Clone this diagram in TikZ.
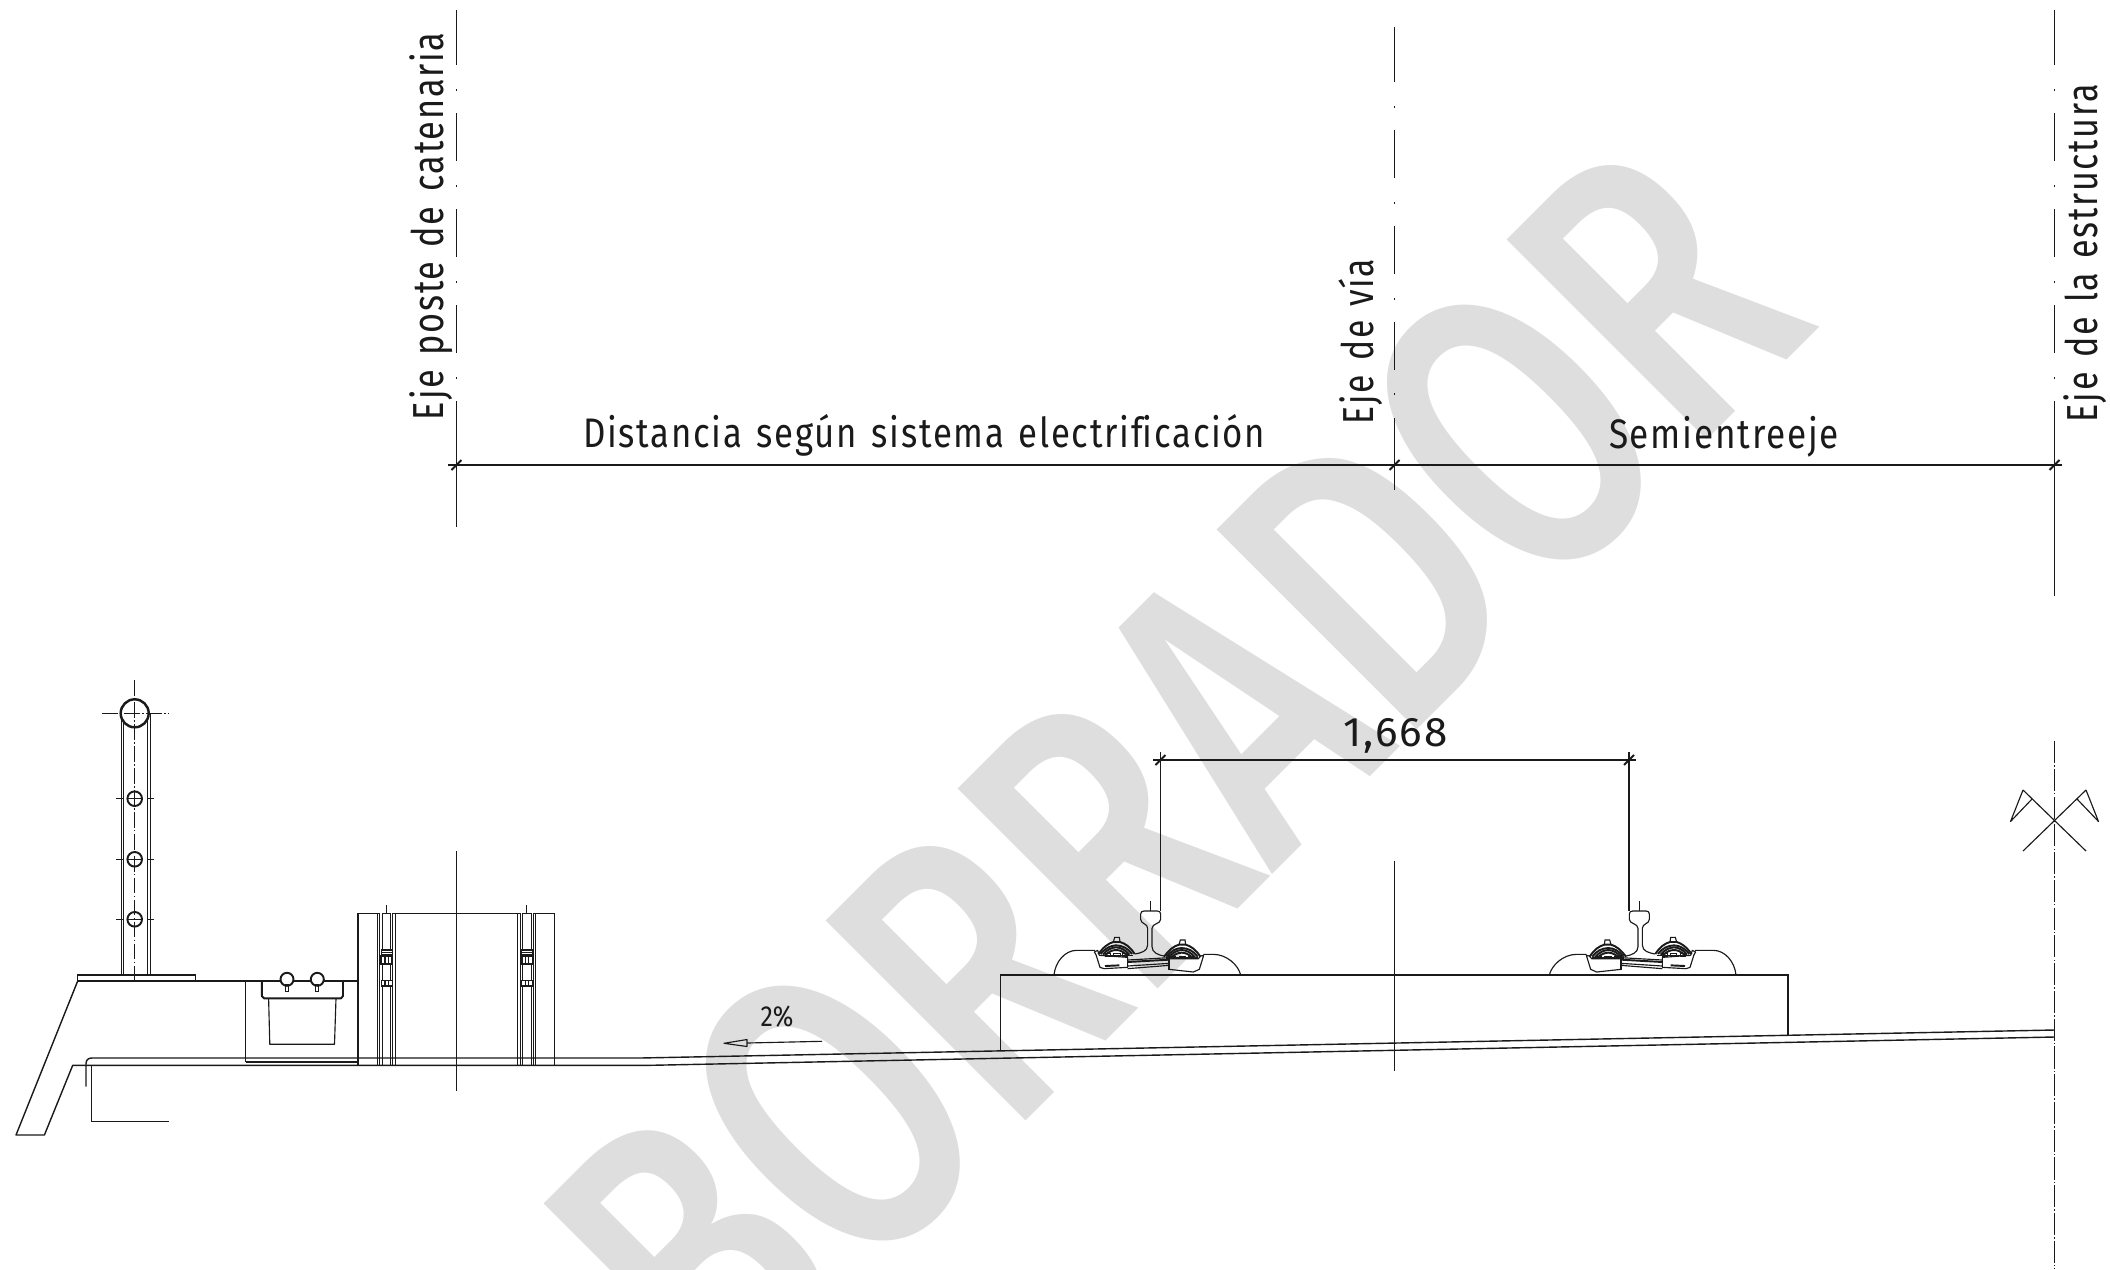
\documentclass[tikz,border=0pt]{standalone}
\usepackage{fontspec}
\usepackage{graphicx}
\setmainfont{Fira Sans}
\newfontface\wmfont{Fira Sans Medium}
\definecolor{ink}{HTML}{1A1A1A}
\definecolor{wm}{HTML}{DEDEDE}
\newsavebox\fitbox
\newcommand\fitw[3]{{\fontsize{#1}{#1}\selectfont\sbox\fitbox{#3}\pgfmathsetmacro\fitr{#2*0.56693/(\the\wd\fitbox)}\scalebox{\fitr}[1]{\usebox\fitbox}}}
\newcommand\spaced{\addfontfeatures{LetterSpace=5}\spaceskip=0.42em\relax}
\tikzset{
  ln/.style={draw=ink,line width=0.65pt},
  thin ln/.style={draw=ink,line width=0.4pt},
  hv/.style={draw=ink,line width=1.1pt},
  tickm/.style={draw=ink,line width=1.1pt},
  lab/.style={inner sep=0pt,outer sep=0pt,anchor=base west,text=ink},
  vlab/.style={lab,rotate=90},
  cdash/.style={draw=ink,line width=0.45pt,dash pattern=on 9pt off 1.3pt on 0.9pt off 1.3pt},
  axisdash/.style={draw=ink,line width=0.65pt,dash pattern=on 12.6pt off 1.2pt on 0.8pt off 1.2pt},
}
% one rail with its fastenings, drawn in units of a third of a pixel
\newcommand\railset{%
  % pads either side
  \draw[ln] (72,285) .. controls (76,245) and (105,211) .. (140,211) -- (195,211);
  \draw[ln] (632,285) .. controls (625,255) and (590,223) .. (550,223) -- (520,223);
  % rail
  \draw[ln,line join=round] (315,222) .. controls (335,218) and (352,214) .. (353,195) -- (353,145)
     .. controls (353,130) and (332,132) .. (332,118) -- (332,102) .. controls (332,96) and (336,93) .. (342,93)
     -- (382,93) .. controls (388,93) and (392,96) .. (392,102) -- (392,118)
     .. controls (392,132) and (366,130) .. (366,145) -- (366,200) .. controls (366,218) and (385,225) .. (402,228);
  \draw[thin ln] (362,63) -- (362,93);
  % base plates
  \draw[ln,line join=round] (193,216) -- (203,211) -- (208,226) -- (293,232) -- (293,262) -- (222,266) -- (210,262) -- (198,224) -- cycle;
  \draw[ln,line join=round] (417,236) -- (505,236) -- (512,228) -- (521,226) -- (508,268) -- (490,276) -- (417,268) -- cycle;
  \draw[ln] (293,228) -- (293,265) (417,224) -- (417,270);
  \draw[ln] (293,240) -- (417,233);
  \draw[hv] (293,246) -- (417,239);
  \draw[ln] (293,258) -- (417,250) (293,266) -- (417,256);
  \draw[hv] (225,258) -- (268,256);
  % clips
  \foreach \dx/\dy in {0/0,197/8}{
    \begin{scope}[shift={(\dx,\dy)}]
      \draw[hv] (205,222) .. controls (222,200) and (235,190) .. (250,186) -- (270,186) .. controls (285,190) and (300,200) .. (314,222);
      \draw[hv] (212,222) .. controls (228,204) and (240,197) .. (258,196) .. controls (278,197) and (292,204) .. (306,222);
      \draw[hv] (219,224) .. controls (232,208) and (245,203) .. (258,202) .. controls (272,203) and (285,208) .. (298,224);
      \draw[hv] (226,225) .. controls (238,214) and (248,210) .. (258,210) .. controls (268,210) and (280,214) .. (290,225);
      \draw[ln] (250,186) -- (254,172) -- (268,172) -- (270,186);
      \draw[ln] (212,226) -- (308,226);
      \draw[thin ln] (225,220) rectangle (240,228) (250,220) rectangle (270,228) (278,220) rectangle (292,228);
    \end{scope}}
}
\begin{document}
\begin{tikzpicture}[x=0.02cm,y=-0.02cm]
\useasboundingbox (0,0) rectangle (2110,1269);
\fill[white] (0,0) rectangle (2110,1269);
% watermark
\begin{scope}
  \clip (529,0) rectangle (2110,1269);
  \node[inner sep=0pt,outer sep=0pt,anchor=base west,rotate=45,text=wm] (wmark) at (726,1421)
    {\wmfont\fitw{233}{1556}{BORRADOR}};
\end{scope}

% ---- reference coordinates
\coordinate (dimL) at (448,465);
\coordinate (dimR) at (2062,465);
\coordinate (railA) at (1160.5,911);
\coordinate (railB) at (1629,911);
\coordinate (dimA) at (1153,760);
\coordinate (dimB) at (1636,760);

% ---- upper axes
\foreach \x in {456.5,2054.5}{
  \foreach \a/\b in {10/65,113/161,209/257,305/353}{\draw[ln] (\x,\a) -- (\x,\b);}
  \foreach \d in {89,185,281,377}{\draw[ln] (\x,\d) -- (\x,\d+1.5);}
}
\draw[ln] (456.5,401) -- (456.5,527);
\draw[ln] (2054.5,401) -- (2054.5,596);
\foreach \a/\b in {27/82,130/178,226/274,322/370,418/490}{\draw[ln] (1394.5,\a) -- (1394.5,\b);}
\foreach \d in {106,202,298,393}{\draw[ln] (1394.5,\d) -- (1394.5,\d+1.5);}

% ---- lower axes
\draw[ln] (456.5,851) -- (456.5,1090.5);
\draw[ln] (1394.5,861) -- (1394.5,1071);
\draw[axisdash] (2054.5,741) -- (2054.5,1269);

% ---- dimension lines
\draw[ln] (dimL) -- (dimR);
\foreach \x in {456.5,1394.5,2054.5}{\draw[tickm] (\x-5,470) -- (\x+5,460);}
\draw[ln] (dimA) -- (dimB);
\foreach \x in {1160.5,1629}{\draw[tickm] (\x-5,765) -- (\x+5,755);}
\draw[ln] (1160.5,752) -- (railA);
\draw[ln] (1629,752) -- (railB);

% ---- labels
\node[vlab] (lblA) at (443,420) {\fitw{24.7}{389}{\spaced Eje poste de catenaria}};
\node[vlab] (lblB) at (1373,424) {\fitw{24.7}{166}{\spaced Eje de vía}};
\node[vlab] (lblC) at (2097.5,422) {\fitw{24.7}{339}{\spaced Eje de la estructura}};
\node[lab] (lblD) at (583,447) {\fitw{23.5}{685}{\spaced Distancia según sistema electrif\kern0pt icación}};
\node[lab] (lblE) at (1609,448) {\fitw{23.5}{231}{\spaced Semientreeje}};
\node[lab] (lblF) at (1343,746) {\fitw{23.5}{105}{\spaced 1,668}};
\node[lab] (lblG) at (760.5,1026) {\fitw{16.5}{33}{2\%}};

% ---- slope arrow
\coordinate (slA) at (822,1041.3);
\coordinate (slB) at (747,1043);
\coordinate (slT) at (724,1043.3);
\draw[ln] (slA) -- (slB);
\draw[ln,line join=round] (slT) -- (747,1039.5) -- (747,1046.5) -- cycle;

% ---- platform and slab
\draw[ln] (77.7,981) -- (358,981);
\draw[ln,line width=0.8pt,line join=round] (77.7,981) -- (16,1135) -- (44.4,1135) -- (72.7,1065.3) -- (650,1065.3) -- (2054.5,1037);
\draw[ln,line width=0.8pt] (86,1086.7) -- (86,1064) .. controls (86,1060) and (88,1058) .. (92,1058) -- (640,1058) -- (2054.5,1030);
\draw[ln] (91.8,1065.3) -- (91.8,1121.7) -- (168.8,1121.7);
\draw[ln] (1000.7,1051) -- (1000.7,975) -- (1788,975) -- (1788,1035);

% ---- post
\draw[thin ln] (121,713) -- (121,975) (150,713) -- (150,975) (123.5,713) -- (123.5,975) (147,713) -- (147,975);
\draw[ln] (77.7,981) -- (77.7,975) -- (195.6,975) -- (195.6,981);
\draw[hv,line width=1.4pt,fill=white] (134.7,713.3) circle[radius=14];
\draw[cdash] (134.7,680) -- (134.7,983);
\draw[cdash,line width=0.7pt] (102,713.3) -- (168,713.3);
\foreach \y in {798.7,859.3,919.3}{
  \draw[hv] (134.7,\y) circle[radius=7.3];
  \draw[ln] (116,\y) -- (123,\y) (128,\y) -- (141,\y) (147,\y) -- (154,\y);
}

% ---- cable trough
\draw[ln] (245.7,981) -- (245.7,1062.3) (358,913.3) -- (358,1065.3);
\draw[hv] (245.7,1062.3) -- (358,1062.3);
\draw[hv,line join=round] (261.8,981) -- (261.8,996) -- (264,998.3) -- (341,998.3) -- (343,996) -- (343,981);
\draw[ln,line join=round] (268.6,998.3) -- (269.8,1044.3) -- (334.5,1044.3) -- (336,998.3);
\foreach \x in {287,317.3}{
  \draw[hv,fill=white] (\x,979.3) circle[radius=6.5];
  \draw[ln] (\x-1.5,985) rectangle (\x+1.5,991.7);
}

% ---- walkway block
\foreach \a/\b in {358/379.6,382.3/390.7,393/520.4,522.8/531.2,533/554.5}{\draw[ln] (\a,913.3) -- (\b,913.3);}
\draw[ln] (554.5,913.3) -- (554.5,1065.3);
\foreach \o in {0,140.4}{
  \begin{scope}[xshift=\o*0.02cm]
    \foreach \x in {377,379.6,382.3,390.7,392.6,395}{\draw[thin ln] (\x,913.3) -- (\x,1065.3);}
    \draw[ln] (386.4,905) -- (386.4,913.3);
    \draw[ln,fill=white] (381.2,950) rectangle (392.3,955);
    \draw[ln] (381.2,952.5) -- (392.3,952.5);
    \draw[hv,fill=white] (381.2,956) rectangle (392.3,963.7);
    \draw[ln] (385,956) -- (385,963.7) (388.5,956) -- (388.5,963.7);
    \draw[ln,fill=white] (381.2,980.7) rectangle (392.3,986);
    \draw[ln] (385,980.7) -- (385,986) (388.5,980.7) -- (388.5,986);
  \end{scope}
}

% ---- rails
\begin{scope}[shift={(1030,880)},scale=1/3]
  \railset
\end{scope}
\begin{scope}[shift={(1760,880)},xscale=-1/3,yscale=1/3]
  \railset
\end{scope}

% ---- sight-line symbol
\coordinate (xc) at (2054.5,820.5);
\draw[ln] (2023,790) -- (xc) -- (2086,851);
\draw[ln] (2086,790) -- (xc) -- (2023,851);
\draw[ln,line join=round] (2023,790) -- (2010.5,821.5) -- (2032,799);
\draw[ln,line join=round] (2086,790) -- (2098.5,821.5) -- (2077,799);
\end{tikzpicture}
\end{document}
